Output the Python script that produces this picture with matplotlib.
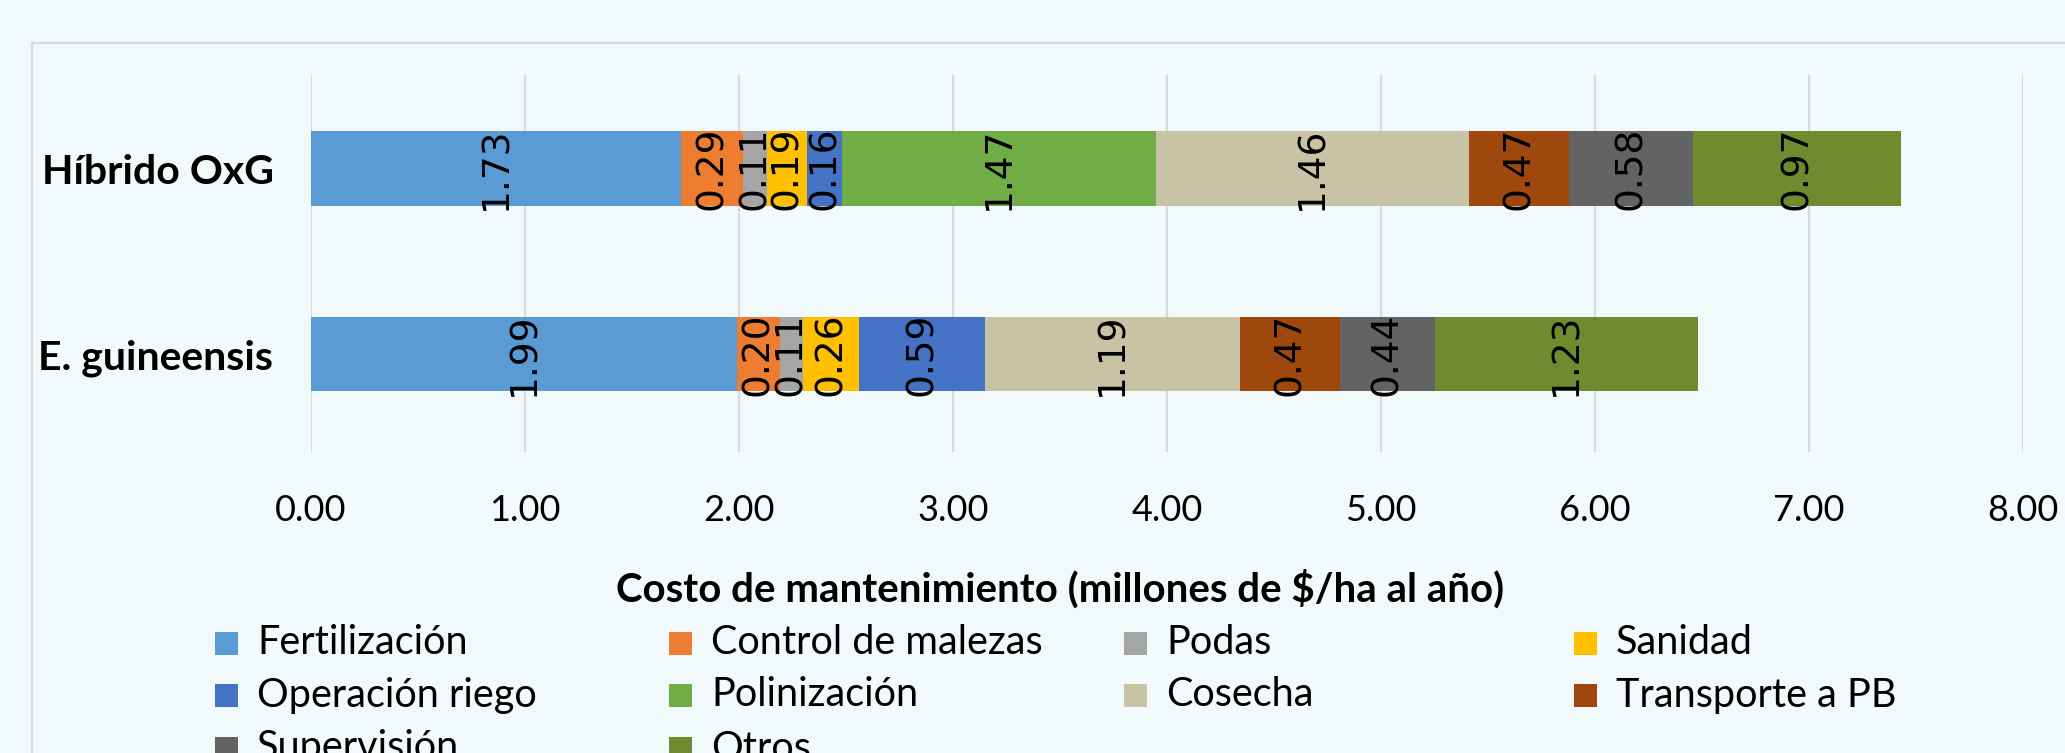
import matplotlib
matplotlib.use("Agg")
import matplotlib.pyplot as plt
from matplotlib.patches import Rectangle
import numpy as np

# ---- data ----
categories = ["E. guineensis", "Híbrido OxG"]
series_names = ["Fertilización", "Control de malezas", "Podas", "Sanidad",
                "Operación riego", "Polinización", "Cosecha", "Transporte a PB",
                "Supervisión", "Otros"]
guineensis = [1.99, 0.20, 0.11, 0.26, 0.59, 0.00, 1.19, 0.47, 0.44, 1.23]
hibrido    = [1.73, 0.29, 0.11, 0.19, 0.16, 1.47, 1.46, 0.47, 0.58, 0.97]
xticks = [0, 1, 2, 3, 4, 5, 6, 7, 8]
xlabel = "Costo de mantenimiento (millones de $/ha al año)"

colors = ["#5B9BD5", "#ED7D31", "#A5A5A5", "#FFC000", "#4472C4",
          "#70AD47", "#C9C3A6", "#9E480E", "#636363", "#6F8A2F"]

BG = "#F2F9FB"
W, H = 2065, 753
fig = plt.figure(figsize=(W / 100, H / 100), dpi=100, facecolor=BG)

# chart area border (extends beyond right/bottom edges)
fig.add_artist(Rectangle((32 / W, -0.2), 1.2, 1.2 - 43 / H, transform=fig.transFigure,
                         facecolor="none", edgecolor="#D9D9D9", lw=1.6, zorder=0))

left, right = 311 / W, 2023 / W
top, bottom = 1 - 75 / H, 1 - 452 / H
ax = fig.add_axes([left, bottom, right - left, top - bottom])
ax.set_facecolor("none")

ypos = np.arange(len(categories))
data = np.array([guineensis, hibrido])
lefts = np.zeros(len(categories))
for j, name in enumerate(series_names):
    vals = data[:, j]
    bars = ax.barh(ypos, vals, left=lefts, height=0.40, color=colors[j],
                   edgecolor="none", zorder=3, label=name)
    for b, v in zip(bars, vals):
        if v > 0:
            ax.text(b.get_x() + b.get_width() / 2, b.get_y() + b.get_height() / 2,
                    f"{v:.2f}", rotation=90, ha="center", va="center",
                    fontsize=27, family="DejaVu Sans", color="black", zorder=4)
    lefts = lefts + vals

ax.set_xlim(0, 8)
ax.set_ylim(-0.528, 1.504)
ax.set_xticks(xticks)
ax.set_xticklabels([f"{t:.2f}" for t in xticks], family="Lato", fontsize=26)
ax.set_yticks(ypos)
ax.set_yticklabels(categories, family="Lato", fontsize=29.5, fontweight="bold")
ax.tick_params(axis="x", length=0, pad=30)
ax.tick_params(axis="y", length=0, pad=27)
ax.grid(axis="x", color="#D9D9D9", lw=1.5, zorder=0)
for s in ax.spines.values():
    s.set_visible(False)

fig.text(1060 / W, 1 - 589 / H, xlabel, ha="center", va="center",
         family="Lato", fontsize=29, fontweight="bold")

# legend (equal-width columns as in the original)
col_x = [215, 669, 1124, 1574]
row_y = [643, 695, 748]
sq = 23
for i, name in enumerate(series_names):
    c, r = i % 4, i // 4
    x0, yc = col_x[c], row_y[r]
    fig.add_artist(Rectangle((x0 / W, (H - yc - sq / 2) / H), sq / W, sq / H,
                             transform=fig.transFigure, facecolor=colors[i],
                             edgecolor="none"))
    fig.text((x0 + 42) / W, 1 - yc / H, name, ha="left", va="center",
             family="Lato", fontsize=28.5)

fig.savefig("out.png", dpi=100, facecolor=BG)
